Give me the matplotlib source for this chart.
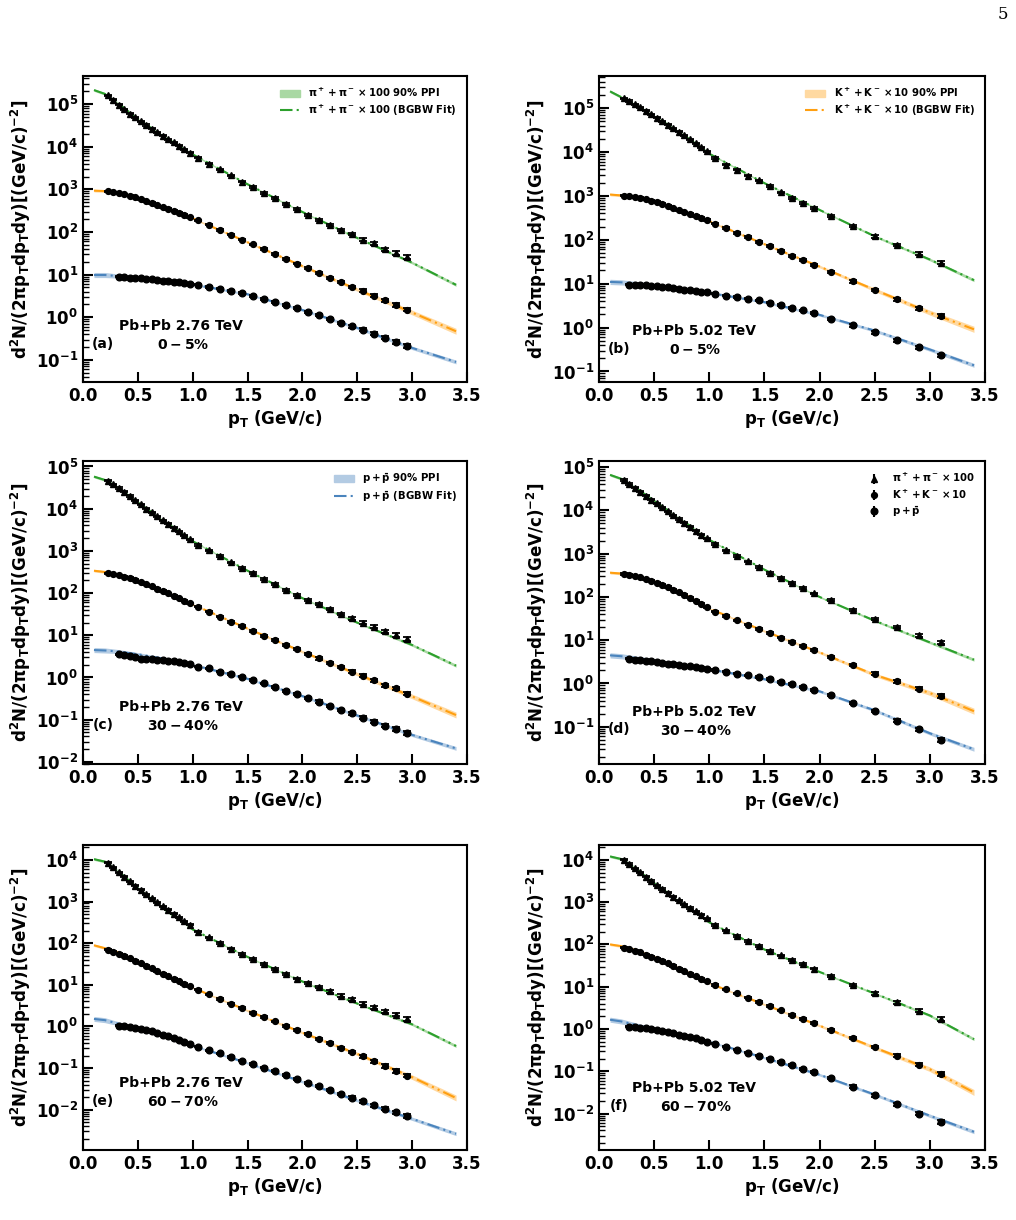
import numpy as np
import matplotlib
matplotlib.use("Agg")
import matplotlib.pyplot as plt
from matplotlib.lines import Line2D
from matplotlib.patches import Patch
from matplotlib.ticker import LogLocator, NullFormatter, MultipleLocator

plt.rcParams["font.weight"] = "bold"
plt.rcParams["axes.labelweight"] = "bold"
plt.rcParams["mathtext.default"] = "bf"

# pT bin centres (GeV/c)
PT_276 = [0.225, 0.275, 0.325, 0.375, 0.425, 0.475, 0.525, 0.575, 0.625, 0.675,
          0.725, 0.775, 0.825, 0.875, 0.925, 0.975,
          1.05, 1.15, 1.25, 1.35, 1.45, 1.55, 1.65, 1.75, 1.85, 1.95,
          2.05, 2.15, 2.25, 2.35, 2.45, 2.55, 2.65, 2.75, 2.85, 2.95]
PT_502 = [0.225, 0.275, 0.325, 0.375, 0.425, 0.475, 0.525, 0.575, 0.625, 0.675,
          0.725, 0.775, 0.825, 0.875, 0.925, 0.975,
          1.05, 1.15, 1.25, 1.35, 1.45, 1.55, 1.65, 1.75, 1.85, 1.95,
          2.1, 2.3, 2.5, 2.7, 2.9, 3.1]
PT_FIT = [0.1, 0.2, 0.3, 0.5, 0.75, 1.0, 1.5, 2.0, 2.5, 3.0, 3.4]

# relative errors of the points
ERR_276 = [0.03, 0.03, 0.03, 0.03, 0.03, 0.03, 0.03, 0.03, 0.03, 0.03, 0.03, 0.03,
           0.03, 0.03, 0.03, 0.03, 0.035, 0.035, 0.04, 0.04, 0.04, 0.045, 0.045,
           0.05, 0.05, 0.05, 0.055, 0.06, 0.06, 0.065, 0.07, 0.075, 0.08, 0.085,
           0.09, 0.10]
ERR_502 = [0.03, 0.03, 0.03, 0.03, 0.03, 0.03, 0.03, 0.03, 0.03, 0.03, 0.03, 0.03,
           0.03, 0.03, 0.03, 0.03, 0.035, 0.035, 0.04, 0.04, 0.04, 0.045, 0.045,
           0.05, 0.05, 0.05, 0.055, 0.06, 0.065, 0.07, 0.08, 0.09]

# ---- log10 of the yields ----
# (a) 2.76 TeV 0-5%
A_PI = [5.21, 5.10, 4.99, 4.88, 4.78, 4.69, 4.60, 4.51, 4.42, 4.34, 4.26, 4.18,
        4.10, 4.02, 3.94, 3.86, 3.74, 3.60, 3.47, 3.33, 3.18, 3.05, 2.92, 2.79,
        2.66, 2.53, 2.41, 2.29, 2.17, 2.05, 1.95, 1.82, 1.73, 1.60, 1.51, 1.41]
A_K = [2.96, 2.93, 2.91, 2.89, 2.85, 2.81, 2.77, 2.72, 2.68, 2.63, 2.58, 2.54,
       2.50, 2.45, 2.40, 2.34, 2.27, 2.17, 2.05, 1.94, 1.82, 1.71, 1.60, 1.49,
       1.37, 1.26, 1.15, 1.04, 0.93, 0.83, 0.71, 0.62, 0.50, 0.40, 0.29, 0.18]
A_P = [0.95, 0.94, 0.93, 0.92, 0.91, 0.90, 0.89, 0.88, 0.86, 0.85, 0.83, 0.82,
       0.80, 0.78, 0.76, 0.71, 0.67, 0.62, 0.57, 0.50, 0.43, 0.35, 0.28, 0.21,
       0.13, 0.05, -0.04, -0.13, -0.21, -0.29, -0.39, -0.48, -0.58, -0.67]
A_PI_FIT = [5.33, 5.24, 5.06, 4.65, 4.22, 3.82, 3.12, 2.47, 1.86, 1.28, 0.76]
A_K_FIT = [2.97, 2.96, 2.92, 2.79, 2.56, 2.32, 1.76, 1.20, 0.65, 0.11, -0.33]
A_P_FIT = [0.99, 0.99, 0.97, 0.93, 0.86, 0.77, 0.54, 0.17, -0.25, -0.72, -1.05]

# (b) 5.02 TeV 0-5%
B_PI = [5.22, 5.16, 5.09, 5.02, 4.94, 4.86, 4.78, 4.70, 4.62, 4.54, 4.46, 4.38,
        4.29, 4.20, 4.11, 4.02, 3.86, 3.71, 3.60, 3.46, 3.35, 3.22, 3.08, 2.96,
        2.84, 2.73, 2.54, 2.31, 2.08, 1.88, 1.68, 1.48]
B_K = [3.00, 2.99, 2.97, 2.95, 2.92, 2.89, 2.86, 2.82, 2.78, 2.72, 2.67, 2.63,
       2.59, 2.54, 2.50, 2.45, 2.37, 2.27, 2.16, 2.06, 1.95, 1.86, 1.74, 1.64,
       1.53, 1.43, 1.27, 1.05, 0.86, 0.64, 0.44, 0.27]
B_P = [0.98, 0.98, 0.97, 0.96, 0.95, 0.94, 0.93, 0.92, 0.90, 0.88, 0.86, 0.85,
       0.84, 0.82, 0.81, 0.77, 0.73, 0.70, 0.66, 0.62, 0.57, 0.51, 0.45, 0.39,
       0.34, 0.20, 0.05, -0.11, -0.29, -0.45, -0.63]
B_PI_FIT = [5.38, 5.25, 5.12, 4.82, 4.42, 3.96, 3.29, 2.68, 2.08, 1.55, 1.08]
B_K_FIT = [3.03, 3.01, 2.98, 2.88, 2.66, 2.42, 1.90, 1.39, 0.86, 0.34, -0.04]
B_P_FIT = [1.04, 1.03, 1.01, 0.96, 0.88, 0.79, 0.58, 0.29, -0.07, -0.50, -0.86]

# (c) 2.76 TeV 30-40%
C_PI = [4.66, 4.58, 4.49, 4.40, 4.30, 4.20, 4.10, 4.00, 3.91, 3.82, 3.73, 3.64,
        3.55, 3.46, 3.37, 3.27, 3.14, 3.01, 2.88, 2.73, 2.60, 2.47, 2.34, 2.21,
        2.08, 1.96, 1.84, 1.74, 1.62, 1.51, 1.40, 1.30, 1.20, 1.10, 1.01, 0.92]
C_K = [2.47, 2.45, 2.42, 2.39, 2.36, 2.31, 2.26, 2.21, 2.16, 2.10, 2.05, 2.00,
       1.94, 1.88, 1.82, 1.76, 1.68, 1.56, 1.44, 1.32, 1.22, 1.10, 0.98, 0.88,
       0.77, 0.67, 0.56, 0.45, 0.34, 0.25, 0.14, 0.04, -0.06, -0.18, -0.26, -0.38]
C_P = [0.55, 0.53, 0.52, 0.48, 0.44, 0.44, 0.43, 0.42, 0.41, 0.40, 0.38, 0.36,
       0.34, 0.31, 0.26, 0.22, 0.14, 0.08, 0.02, -0.06, -0.14, -0.22, -0.32, -0.40,
       -0.48, -0.57, -0.67, -0.77, -0.85, -0.95, -1.05, -1.14, -1.22, -1.32]
C_PI_FIT = [4.76, 4.68, 4.53, 4.15, 3.69, 3.23, 2.53, 1.88, 1.30, 0.77, 0.28]
C_K_FIT = [2.53, 2.50, 2.45, 2.30, 2.03, 1.73, 1.16, 0.61, 0.08, -0.45, -0.89]
C_P_FIT = [0.65, 0.64, 0.62, 0.55, 0.44, 0.30, -0.03, -0.44, -0.90, -1.36, -1.68]

# (d) 5.02 TeV 30-40%
D_PI = [4.70, 4.61, 4.52, 4.43, 4.34, 4.25, 4.16, 4.07, 3.98, 3.89, 3.80, 3.71,
        3.62, 3.53, 3.44, 3.35, 3.22, 3.08, 2.95, 2.82, 2.69, 2.56, 2.44, 2.32,
        2.20, 2.08, 1.92, 1.70, 1.49, 1.31, 1.12, 0.95]
D_K = [2.53, 2.51, 2.48, 2.45, 2.41, 2.37, 2.33, 2.28, 2.23, 2.17, 2.11, 2.05,
       1.98, 1.91, 1.84, 1.76, 1.66, 1.56, 1.46, 1.36, 1.26, 1.16, 1.06, 0.96,
       0.87, 0.78, 0.62, 0.42, 0.23, 0.05, -0.12, -0.29]
D_P = [0.57, 0.55, 0.54, 0.52, 0.51, 0.49, 0.48, 0.46, 0.45, 0.43, 0.41, 0.40,
       0.38, 0.36, 0.34, 0.31, 0.27, 0.23, 0.19, 0.15, 0.10, 0.04, -0.02, -0.08,
       -0.14, -0.26, -0.45, -0.64, -0.86, -1.06, -1.30]
D_PI_FIT = [4.82, 4.73, 4.58, 4.22, 3.78, 3.32, 2.63, 2.00, 1.45, 0.95, 0.55]
D_K_FIT = [2.56, 2.54, 2.49, 2.36, 2.10, 1.73, 1.21, 0.72, 0.20, -0.22, -0.64]
D_P_FIT = [0.65, 0.63, 0.60, 0.53, 0.44, 0.33, 0.10, -0.18, -0.62, -1.15, -1.52]

# (e) 2.76 TeV 60-70%
E_PI = [3.93, 3.82, 3.71, 3.60, 3.49, 3.38, 3.28, 3.18, 3.08, 2.98, 2.89, 2.80,
        2.71, 2.62, 2.53, 2.44, 2.28, 2.14, 2.00, 1.87, 1.74, 1.62, 1.50, 1.38,
        1.26, 1.15, 1.04, 0.94, 0.84, 0.74, 0.65, 0.55, 0.46, 0.37, 0.28, 0.18]
E_K = [1.84, 1.80, 1.75, 1.70, 1.64, 1.58, 1.52, 1.46, 1.40, 1.33, 1.27, 1.21,
       1.15, 1.08, 1.02, 0.96, 0.88, 0.77, 0.66, 0.55, 0.44, 0.33, 0.23, 0.12,
       0.02, -0.09, -0.19, -0.30, -0.40, -0.51, -0.61, -0.72, -0.84, -0.95, -1.07, -1.18]
E_P = [0.02, 0.01, -0.01, -0.03, -0.06, -0.09, -0.12, -0.16, -0.20, -0.24, -0.28,
       -0.33, -0.38, -0.43, -0.49, -0.57, -0.65, -0.73, -0.82, -0.90, -0.99, -1.08,
       -1.17, -1.26, -1.35, -1.44, -1.53, -1.62, -1.71, -1.80, -1.89, -1.98, -2.06, -2.15]
E_PI_FIT = [4.02, 3.96, 3.78, 3.32, 2.80, 2.33, 1.67, 1.08, 0.55, 0.05, -0.47]
E_K_FIT = [1.95, 1.88, 1.80, 1.57, 1.26, 0.93, 0.38, -0.15, -0.66, -1.22, -1.72]
E_P_FIT = [0.18, 0.15, 0.08, -0.06, -0.25, -0.46, -0.88, -1.33, -1.78, -2.22, -2.58]

# (f) 5.02 TeV 60-70%
F_PI = [4.00, 3.90, 3.80, 3.70, 3.60, 3.50, 3.40, 3.31, 3.22, 3.13, 3.04, 2.95,
        2.86, 2.78, 2.70, 2.62, 2.46, 2.33, 2.20, 2.08, 1.96, 1.85, 1.74, 1.63,
        1.53, 1.43, 1.25, 1.04, 0.84, 0.63, 0.43, 0.24]
F_K = [1.92, 1.89, 1.85, 1.81, 1.76, 1.71, 1.66, 1.61, 1.55, 1.49, 1.43, 1.37,
       1.31, 1.25, 1.19, 1.13, 1.04, 0.94, 0.84, 0.74, 0.64, 0.54, 0.44, 0.34,
       0.24, 0.14, -0.02, -0.22, -0.43, -0.63, -0.84, -1.06]
F_P = [0.05, 0.04, 0.03, 0.02, 0.00, -0.02, -0.04, -0.07, -0.10, -0.13, -0.16,
       -0.19, -0.22, -0.26, -0.30, -0.35, -0.42, -0.49, -0.56, -0.63, -0.70, -0.78,
       -0.86, -0.94, -1.02, -1.15, -1.36, -1.57, -1.78, -2.00, -2.20]
F_PI_FIT = [4.08, 4.02, 3.86, 3.45, 2.98, 2.52, 1.88, 1.35, 0.84, 0.32, -0.24]
F_K_FIT = [2.00, 1.96, 1.89, 1.70, 1.42, 1.08, 0.58, 0.08, -0.44, -0.95, -1.50]
F_P_FIT = [0.22, 0.18, 0.12, -0.01, -0.15, -0.30, -0.68, -1.08, -1.55, -2.05, -2.43]

# 90% PPI half widths (dex) at PT_FIT
BAND_PI = [0.03, 0.03, 0.025, 0.02, 0.02, 0.02, 0.02, 0.02, 0.025, 0.03, 0.035]
BAND_K = [0.03, 0.03, 0.025, 0.02, 0.02, 0.02, 0.025, 0.03, 0.04, 0.055, 0.07]
BAND_P = [0.06, 0.06, 0.05, 0.04, 0.03, 0.025, 0.025, 0.03, 0.035, 0.04, 0.045]

# y limits (log10) and labels for each panel
YLIM = [(-1.52, 5.66), (-1.24, 5.73), (-2.05, 5.13), (-1.86, 5.14),
        (-2.97, 4.36), (-2.86, 4.35)]
ENERGY = ["Pb+Pb 2.76 TeV", "Pb+Pb 5.02 TeV"] * 3
CENT = [r"$0-5\%$", r"$0-5\%$", r"$30-40\%$", r"$30-40\%$", r"$60-70\%$", r"$60-70\%$"]
TAGS = ["(a)", "(b)", "(c)", "(d)", "(e)", "(f)"]

PI_COL, K_COL, P_COL = "#2ca02c", "#ff9f10", "#4a84bd"
PI_BAND, K_BAND, P_BAND = "#a9d8a3", "#ffd9a1", "#b3cbe3"
FIT_LS = (0, (6, 2, 1, 2, 1, 2))
MARKERS = [("^", 4.5), ("o", 4.2), ("o", 4.8)]

panels = [
    (PT_276, 2, A_PI, A_K, A_P, A_PI_FIT, A_K_FIT, A_P_FIT, ERR_276),
    (PT_502, 1, B_PI, B_K, B_P, B_PI_FIT, B_K_FIT, B_P_FIT, ERR_502),
    (PT_276, 2, C_PI, C_K, C_P, C_PI_FIT, C_K_FIT, C_P_FIT, ERR_276),
    (PT_502, 1, D_PI, D_K, D_P, D_PI_FIT, D_K_FIT, D_P_FIT, ERR_502),
    (PT_276, 2, E_PI, E_K, E_P, E_PI_FIT, E_K_FIT, E_P_FIT, ERR_276),
    (PT_502, 1, F_PI, F_K, F_P, F_PI_FIT, F_K_FIT, F_P_FIT, ERR_502),
]

# axes boxes in pixels (left, top, right, bottom)
W, H = 1016, 1220
boxes = [(83, 76, 467, 382), (599, 76, 985, 382),
         (83, 461, 467, 764), (599, 461, 985, 764),
         (83, 845, 467, 1150), (599, 845, 985, 1150)]
# annotation heights (axes fraction) for the energy line
TEXT_Y = [0.183, 0.167, 0.188, 0.172, 0.22, 0.203]

fig = plt.figure(figsize=(W / 100, H / 100), dpi=100)

for i, (pt, p0, pi, k, p, pif, kf, pf, err) in enumerate(panels):
    l, t, r, b = boxes[i]
    ax = fig.add_axes([l / W, 1 - b / H, (r - l) / W, (b - t) / H])
    ax.set_yscale("log")

    for fit, band, col, bcol in [(pif, BAND_PI, PI_COL, PI_BAND),
                                 (kf, BAND_K, K_COL, K_BAND),
                                 (pf, BAND_P, P_COL, P_BAND)]:
        fit = np.array(fit)
        band = np.array(band)
        ax.fill_between(PT_FIT, 10 ** (fit - band), 10 ** (fit + band),
                        color=bcol, lw=0, zorder=1)
        ax.plot(PT_FIT, 10 ** fit, color=col, ls=FIT_LS, lw=1.5, zorder=2)

    err = np.array(err)
    for (x, v, e), (mk, ms) in zip([(pt, pi, err), (pt, k, err),
                                    (pt[p0:], p, err[p0:])], MARKERS):
        y = 10 ** np.array(v)
        ax.errorbar(x, y, yerr=y * e, fmt=mk, color="black", ms=ms,
                    capsize=3, elinewidth=1.3, capthick=1.3, zorder=3)

    ax.set_xlim(0, 3.5)
    ax.set_ylim(10 ** YLIM[i][0], 10 ** YLIM[i][1])
    ax.xaxis.set_major_locator(MultipleLocator(0.5))
    ax.yaxis.set_major_locator(LogLocator(base=10, numticks=20))
    ax.yaxis.set_minor_locator(LogLocator(base=10, subs=np.arange(2, 10), numticks=20))
    ax.yaxis.set_minor_formatter(NullFormatter())
    ax.tick_params(which="major", direction="in", length=7, width=1.5,
                   labelsize=12)
    ax.tick_params(which="minor", direction="in", length=4, width=1)
    for s in ax.spines.values():
        s.set_linewidth(1.5)
    for lab in ax.get_xticklabels():
        lab.set_fontweight("bold")

    ax.set_xlabel(r"p$_\mathrm{T}$ (GeV/c)", fontsize=12, labelpad=2)
    ax.set_ylabel(r"$\mathrm{d}^2$N/(2πp$_T$dp$_T$dy)[(GeV/c)$^{-2}$]",
                  fontsize=12, labelpad=2)

    tx = 0.255 if i % 2 == 0 else 0.245
    ty = TEXT_Y[i]
    ax.text(tx, ty, ENERGY[i], transform=ax.transAxes, ha="center",
            va="center", fontsize=10)
    ax.text(tx + 0.005, ty - 0.062, CENT[i], transform=ax.transAxes,
            ha="center", va="center", fontsize=10)
    ax.text(0.052, ty - 0.058, TAGS[i], transform=ax.transAxes, ha="center",
            va="center", fontsize=10)

    if i == 0:
        hs = [Patch(color=PI_BAND), Line2D([], [], color=PI_COL, ls=FIT_LS, lw=1.5)]
        ls = [r"$\pi^+ + \pi^- \times 100$ 90% PPI", r"$\pi^+ + \pi^- \times 100$ (BGBW Fit)"]
    elif i == 1:
        hs = [Patch(color=K_BAND), Line2D([], [], color=K_COL, ls=FIT_LS, lw=1.5)]
        ls = [r"$K^+ + K^- \times 10$ 90% PPI", r"$K^+ + K^- \times 10$ (BGBW Fit)"]
    elif i == 2:
        hs = [Patch(color=P_BAND), Line2D([], [], color=P_COL, ls=FIT_LS, lw=1.5)]
        ls = [r"$p + \bar{p}$ 90% PPI", r"$p + \bar{p}$ (BGBW Fit)"]
    elif i == 3:
        hs = [ax.errorbar([], [], yerr=[], fmt=m, color="black", ms=s, capsize=3)
              for m, s in MARKERS]
        ls = [r"$\pi^+ + \pi^- \times 100$", r"$K^+ + K^- \times 10$", r"$p + \bar{p}$"]
    else:
        hs = None
    if hs is not None:
        ax.legend(hs, ls, loc="upper right", fontsize=7.3, frameon=False,
                  labelspacing=0.35, handlelength=2.0, borderaxespad=0.6)

fig.text(0.987, 0.988, "5", family="DejaVu Serif", fontsize=12,
         fontweight="normal", ha="center", va="center")

fig.savefig("out.png", dpi=100)
